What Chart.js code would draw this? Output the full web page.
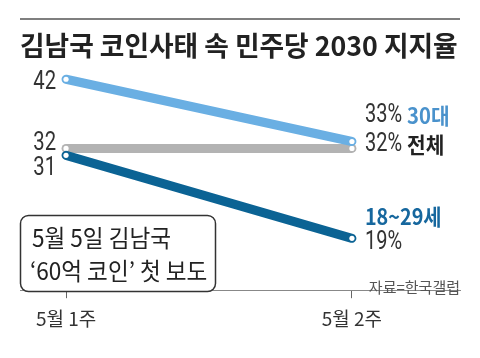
<!DOCTYPE html>
<html>
<head>
<meta charset="utf-8">
<script src="https://cdn.jsdelivr.net/npm/chart.js@4.4.1/dist/chart.umd.min.js"></script>
<style>
  html, body { margin: 0; padding: 0; background: #fff; }
  #wrap { width: 480px; height: 358px; position: relative; }
</style>
</head>
<body>
<div id="wrap"><canvas id="grafico" width="480" height="358"></canvas></div>
<script>
const weeks = ['5월 1주', '5월 2주'];
const age30 = [42, 33];
const total = [32, 32];
const age1829 = [31, 19];

const titulo = '김남국 코인사태 속 민주당 2030 지지율';
const nota = ['5월 5일 김남국', '‘60억 코인’ 첫 보도'];
const fuente = '자료=한국갤럽';

const NUM = "Roboto, 'Noto Sans CJK KR', sans-serif";
const KR = "'Noto Sans CJK KR', sans-serif";

function puntos(arr) {
  return arr.map((v, i) => ({ x: i, y: v }));
}

// text with horizontal squeeze
function texto(ctx, str, x, y, font, color, align, sx) {
  sx = sx || 1;
  ctx.save();
  ctx.font = font;
  ctx.fillStyle = color;
  ctx.textBaseline = 'middle';
  const w = ctx.measureText(str).width * sx;
  let x0 = x;
  if (align === 'right') x0 = x - w;
  if (align === 'center') x0 = x - w / 2;
  ctx.translate(x0, y);
  ctx.scale(sx, 1);
  ctx.textAlign = 'left';
  ctx.fillText(str, 0, 0);
  ctx.restore();
  return w;
}

// pieces: [[str, font, color, sx], ...] drawn left to right
function textoPartes(ctx, partes, x, y) {
  let cx = x;
  partes.forEach(p => {
    cx += texto(ctx, p[0], cx, y, p[1], p[2], 'left', p[3]);
  });
}

const anotaciones = {
  id: 'anotaciones',
  afterDraw(chart) {
    const ctx = chart.ctx;
    const xs = chart.scales.x;
    const ys = chart.scales.y;

    // top rule
    ctx.save();
    ctx.strokeStyle = '#555';
    ctx.lineWidth = 1.5;
    ctx.beginPath();
    ctx.moveTo(20, 19);
    ctx.lineTo(460, 19);
    ctx.stroke();
    ctx.restore();

    // title
    texto(ctx, titulo, 20, 46, 'bold 27px ' + KR, '#222', 'left', 0.99);

    // left values
    const x0 = xs.getPixelForValue(0) - 10;
    const numFont = '26px ' + NUM;
    texto(ctx, String(age30[0]), x0, ys.getPixelForValue(age30[0]) + 3, numFont, '#333', 'right', 0.78);
    texto(ctx, String(total[0]), x0, ys.getPixelForValue(total[0]) - 5, numFont, '#333', 'right', 0.78);
    texto(ctx, String(age1829[0]), x0, ys.getPixelForValue(age1829[0]) + 13, numFont, '#333', 'right', 0.78);

    // right values
    const x1 = xs.getPixelForValue(1) + 13;
    const rFont = '25px ' + NUM;
    const rBold = 'bold 22px ' + KR;
    textoPartes(ctx, [[age30[1] + '% ', rFont, '#333', 0.8], ['30대', rBold, '#4a92cc', 0.92]],
      x1, ys.getPixelForValue(age30[1]) - 26);
    textoPartes(ctx, [[total[1] + '% ', rFont, '#333', 0.8], ['전체', rBold, '#222', 0.92]],
      x1, ys.getPixelForValue(total[1]) - 4);
    texto(ctx, '18~29세', x1, ys.getPixelForValue(age1829[1]) - 22, rBold, '#16679e', 'left', 0.9);
    texto(ctx, age1829[1] + '%', x1, ys.getPixelForValue(age1829[1]) + 4, rFont, '#333', 'left', 0.8);

    // note box
    ctx.save();
    ctx.strokeStyle = '#333';
    ctx.lineWidth = 1.5;
    ctx.fillStyle = '#fff';
    ctx.beginPath();
    ctx.roundRect(20.5, 215.5, 195, 76, 8);
    ctx.fill();
    ctx.stroke();
    ctx.restore();
    texto(ctx, nota[0], 32, 238, '24px ' + KR, '#222', 'left', 0.94);
    texto(ctx, nota[1], 30, 271, '24px ' + KR, '#222', 'left', 0.94);

    // source
    texto(ctx, fuente, 460, 287, '15px ' + KR, '#555', 'right', 1);
  }
};

const ctx = document.getElementById('grafico').getContext('2d');

new Chart(ctx, {
  type: 'line',
  data: {
    datasets: [
      {
        label: '18~29세',
        data: puntos(age1829),
        borderColor: '#0b6394',
        backgroundColor: '#fff'
      },
      {
        label: '30대',
        data: puntos(age30),
        borderColor: '#6aafe3',
        backgroundColor: '#fff'
      },
      {
        label: '전체',
        data: puntos(total),
        borderColor: '#b3b3b3',
        backgroundColor: '#fff'
      }
    ]
  },
  options: {
    responsive: false,
    animation: false,
    layout: { padding: { left: 20, right: 20, top: 58.5, bottom: 19 } },
    elements: {
      line: { borderWidth: 9, borderCapStyle: 'round', tension: 0 },
      point: { radius: 2.6, borderWidth: 0, backgroundColor: '#fff', hoverRadius: 2.6 }
    },
    scales: {
      x: {
        type: 'linear',
        min: -0.161,
        max: 1.378,
        afterBuildTicks: (s) => { s.ticks = [{ value: 0 }, { value: 1 }]; },
        ticks: {
          callback: (v) => weeks[v],
          color: '#333',
          padding: 9,
          maxRotation: 0,
          font: { family: KR, size: 19 }
        },
        grid: {
          display: true,
          drawOnChartArea: false,
          drawTicks: true,
          tickLength: 8,
          color: '#666',
          lineWidth: 1
        },
        border: { display: true, dash: [2, 2], color: '#888', width: 1 }
      },
      y: {
        display: false,
        min: 11.5,
        max: 45
      }
    },
    plugins: {
      legend: { display: false },
      tooltip: { enabled: false }
    }
  },
  plugins: [anotaciones]
});
</script>
</body>
</html>
